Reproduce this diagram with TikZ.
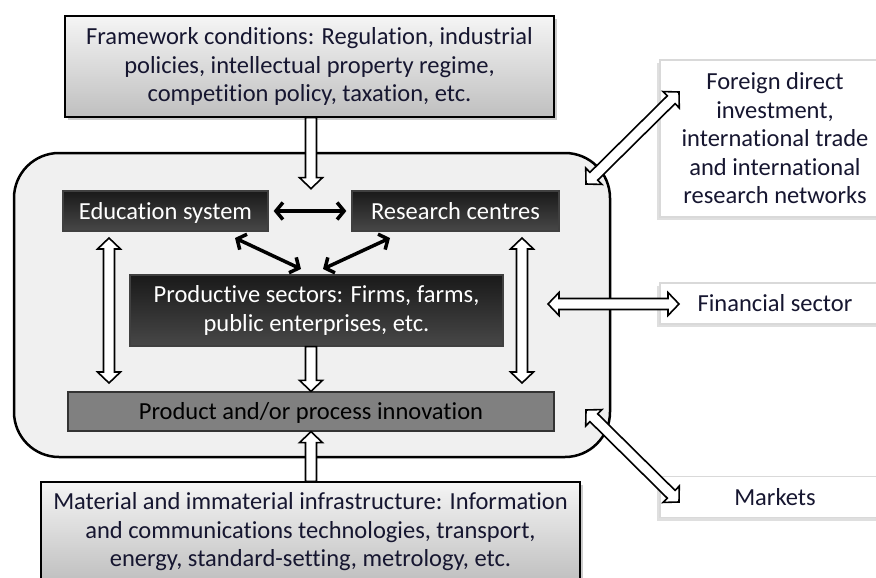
\documentclass[tikz,border=0pt]{standalone}
\usepackage{fontspec}
\setmainfont{Carlito}[Ligatures=NoCommon]
\usetikzlibrary{calc}
\usetikzlibrary{shadows}
\usetikzlibrary{arrows.meta}

\definecolor{ink}{RGB}{22,22,48}
\definecolor{panel}{RGB}{240,240,240}

\tikzset{
    box/.style = {align=center, inner sep=0pt, text centered, line width=1.3pt, font=\fontsize{24.5}{28.5}\selectfont},
    one_line/.style = {text height=20pt, text depth=4pt},
    grey_box/.style = {box, draw=black, top color=black!4, bottom color=black!25, text=ink, drop shadow={shadow xshift=3pt, shadow yshift=-3pt, opacity=0.4}},
    dark_box/.style = {box, draw=black!75, top color=black!90, bottom color=black!72, text=white},
    mid_box/.style = {box, draw=black!80, fill=black!50, text=black},
    side_box/.style = {box, draw=black!15, fill=white, text=ink, drop shadow={shadow xshift=-3pt, shadow yshift=-3pt, opacity=0.25}},
    system/.style = {draw=black, line width=2.5pt, fill=panel, rounded corners=45pt},
    hollow/.style = {draw=black, line width=1.6pt, fill=white, line join=miter},
    biarrow/.style = {line width=3.5pt, {Straight Barb[length=7pt,width=17pt]}-{Straight Barb[length=7pt,width=17pt]}}
}

% hollow block arrows between two named points
\newcommand{\oneway}[2]{%
    \coordinate (hb) at ($(#2)!11pt!(#1)$);
    \draw [hollow] ($(#1)!5.5pt!90:(#2)$) -- ($(hb)!5.5pt!90:(#2)$) -- ($(hb)!11.5pt!90:(#2)$) -- (#2)
        -- ($(hb)!11.5pt!-90:(#2)$) -- ($(hb)!5.5pt!-90:(#2)$) -- ($(#1)!5.5pt!-90:(#2)$) -- cycle;
}
\newcommand{\twoway}[2]{%
    \coordinate (ha) at ($(#1)!11pt!(#2)$);
    \coordinate (hb) at ($(#2)!11pt!(#1)$);
    \draw [hollow] (#1) -- ($(ha)!11.5pt!90:(#2)$) -- ($(ha)!5.5pt!90:(#2)$) -- ($(hb)!5.5pt!90:(#2)$)
        -- ($(hb)!11.5pt!90:(#2)$) -- (#2) -- ($(hb)!11.5pt!-90:(#2)$) -- ($(hb)!5.5pt!-90:(#2)$)
        -- ($(ha)!5.5pt!-90:(#2)$) -- ($(ha)!11.5pt!-90:(#2)$) -- cycle;
}

\begin{document}
\begin{tikzpicture}[x=1pt, y=-1pt]
    \fill [white] (0,0) rectangle (876,578);
    \useasboundingbox (0,0) rectangle (876,578);

    \node [system, minimum width=596pt, minimum height=304pt] (sys) at (312,305) {};

    \node [grey_box, minimum width=489pt, minimum height=101pt] (frame) at (309.5,66.5)
        {Framework conditions: Regulation, industrial\\ policies, intellectual property regime,\\ competition policy, taxation, etc.};
    \node [grey_box, minimum width=539pt, minimum height=100pt] (infra) at (310.5,532)
        {Material and immaterial infrastructure: Information\\ and communications technologies, transport,\\ energy, standard-setting, metrology, etc.};

    \node [dark_box, one_line, minimum width=205pt, minimum height=40pt] (edu) at (165.5,211) {Education system};
    \node [dark_box, one_line, minimum width=207pt, minimum height=40pt] (res) at (455.5,211) {Research centres};
    \node [dark_box, minimum width=373pt, minimum height=71pt] (prod) at (316.5,310.5)
        {Productive sectors: Firms, farms,\\ public enterprises, etc.};
    \node [mid_box, one_line, minimum width=486pt, minimum height=39pt] (innov) at (311,411.5) {Product and/or process innovation};

    \node [side_box, minimum width=230pt, minimum height=157pt] (fdi) at (775,138.5)
        {Foreign direct\\ investment,\\ international trade\\ and international\\ research networks};
    \node [side_box, one_line, minimum width=230pt, minimum height=41pt] (fin) at (775,303.5) {Financial sector};
    \node [side_box, one_line, minimum width=230pt, minimum height=41pt] (mkt) at (775,497) {Markets};

    \coordinate (ftip) at ($(frame.south)+(1.5,71)$);
    \coordinate (ftail) at ($(frame.south)+(1.5,0)$);
    \coordinate (ptail) at (prod.south -| innov.north);
    \coordinate (itail) at (infra.north -| innov.south);
    \coordinate (l1) at (109,238);
    \coordinate (l2) at (109,383);
    \coordinate (r1) at (522,238);
    \coordinate (r2) at (522,383);
    \coordinate (s1) at (586,184);
    \coordinate (s2) at (548,304);
    \coordinate (s3) at (586,410);
    \coordinate (o1) at (679,92);
    \coordinate (o2) at (679,304);
    \coordinate (o3) at (679,502);

    \oneway{ftail}{ftip}
    \oneway{ptail}{innov.north}
    \oneway{itail}{innov.south}
    \twoway{l1}{l2}
    \twoway{r1}{r2}
    \twoway{s1}{o1}
    \twoway{s2}{o2}
    \twoway{s3}{o3}

    \coordinate (e1) at (235,238);
    \coordinate (e2) at (301,269);
    \coordinate (c1) at (390,238);
    \coordinate (c2) at (323,269);
    \draw [biarrow, shorten <=5pt, shorten >=5pt] (edu) -- (res);
    \draw [biarrow] (e1) -- (e2);
    \draw [biarrow] (c1) -- (c2);
\end{tikzpicture}
\end{document}
